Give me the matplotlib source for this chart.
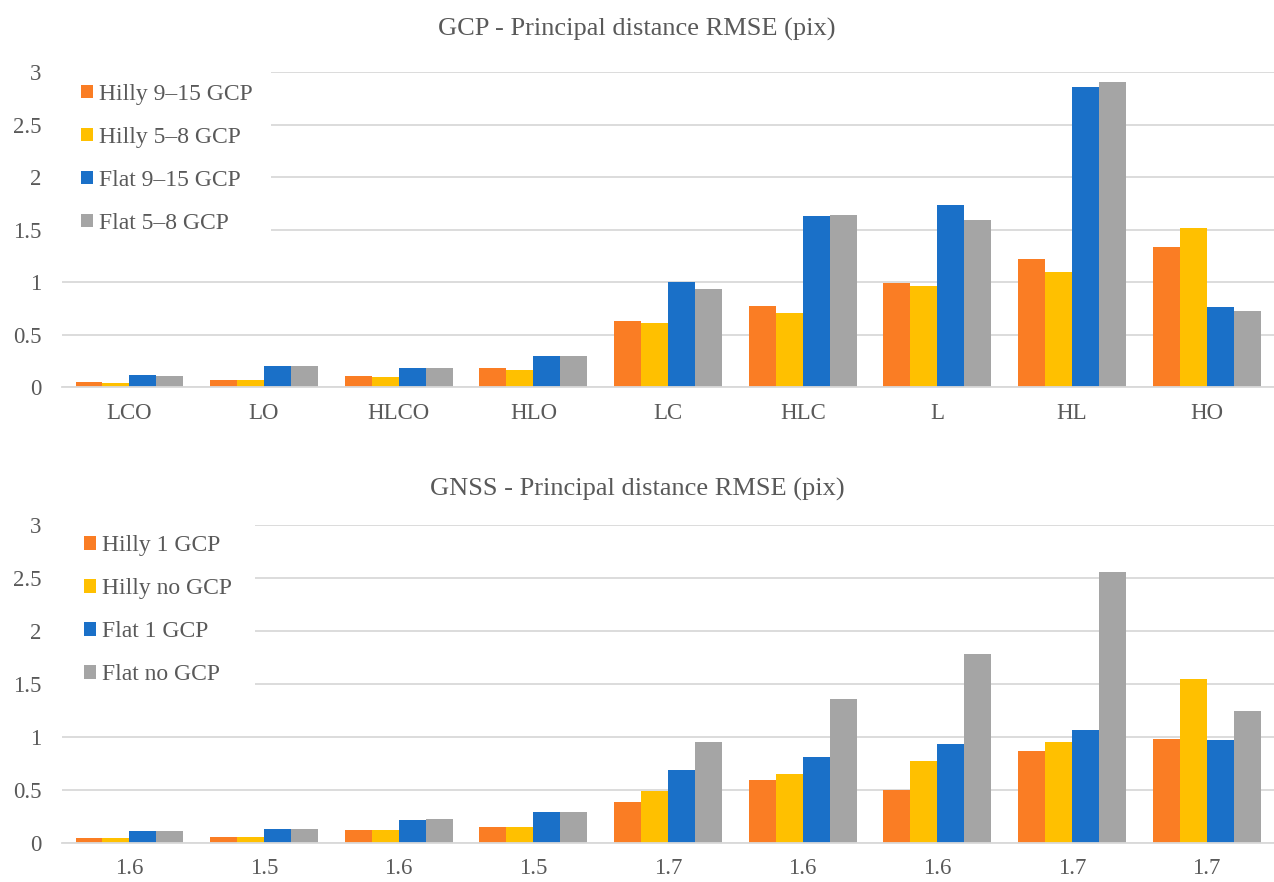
import numpy as np
import matplotlib
matplotlib.use('Agg')
import matplotlib.pyplot as plt

plt.rcParams['font.family'] = ['Liberation Serif', 'DejaVu Serif']

# top chart: GCP
gcp_cats = ['LCO', 'LO', 'HLCO', 'HLO', 'LC', 'HLC', 'L', 'HL', 'HO']
gcp_labels = ['Hilly 9\u201315 GCP', 'Hilly 5\u20138 GCP', 'Flat 9\u201315 GCP', 'Flat 5\u20138 GCP']
gcp_hilly_9_15 = [0.05, 0.07, 0.11, 0.18, 0.63, 0.77, 0.99, 1.22, 1.34]
gcp_hilly_5_8 = [0.045, 0.07, 0.10, 0.16, 0.61, 0.71, 0.96, 1.10, 1.52]
gcp_flat_9_15 = [0.12, 0.20, 0.18, 0.30, 1.00, 1.63, 1.74, 2.86, 0.76]
gcp_flat_5_8 = [0.11, 0.20, 0.18, 0.30, 0.94, 1.64, 1.59, 2.91, 0.73]

# bottom chart: GNSS
gnss_cats = ['1.6', '1.5', '1.6', '1.5', '1.7', '1.6', '1.6', '1.7', '1.7']
gnss_labels = ['Hilly 1 GCP', 'Hilly no GCP', 'Flat 1 GCP', 'Flat no GCP']
gnss_hilly_1 = [0.05, 0.055, 0.12, 0.15, 0.39, 0.59, 0.50, 0.87, 0.98]
gnss_hilly_no = [0.05, 0.055, 0.12, 0.15, 0.49, 0.65, 0.77, 0.95, 1.55]
gnss_flat_1 = [0.115, 0.13, 0.22, 0.29, 0.69, 0.81, 0.93, 1.07, 0.97]
gnss_flat_no = [0.115, 0.13, 0.225, 0.295, 0.95, 1.36, 1.78, 2.56, 1.25]

colors = ['#FA7D24', '#FFC000', '#1A70C8', '#A5A5A5']
text_col = '#595959'
grid_col = '#D9D9D9'


def draw(ax, cats, series, labels, leg_y, leg_pad):
    x = np.arange(len(cats))
    w = 0.2
    for i, (vals, lab) in enumerate(zip(series, labels)):
        ax.bar(x + (i - 1.5) * w, vals, w, color=colors[i], label=lab, zorder=2)
    ax.set_xlim(-0.5, len(cats) - 0.5)
    ax.set_ylim(0, 3)
    ax.set_yticks(np.arange(0, 3.01, 0.5))
    ax.set_yticklabels(['0', '0.5', '1', '1.5', '2', '2.5', '3'])
    ax.set_xticks(x)
    ax.set_xticklabels(cats)
    ax.yaxis.grid(True, color=grid_col, lw=1.3, zorder=0)
    ax.set_axisbelow(True)
    for s in ['top', 'right', 'left']:
        ax.spines[s].set_visible(False)
    ax.spines['bottom'].set_color(grid_col)
    ax.spines['bottom'].set_linewidth(1.3)
    ax.tick_params(axis='both', length=0, labelsize=16.5, colors=text_col)
    ax.tick_params(axis='x', pad=11)
    ax.tick_params(axis='y', pad=15)
    leg = ax.legend(loc='upper left', bbox_to_anchor=(0.0, leg_y), borderaxespad=0,
                    frameon=True, facecolor='white', edgecolor='none', framealpha=1,
                    fontsize=17, handlelength=0.5, handleheight=0.5,
                    handletextpad=0.25, labelspacing=0.93, borderpad=leg_pad,
                    fancybox=False)
    for t in leg.get_texts():
        t.set_color(text_col)
    leg.set_zorder(3)


fig = plt.figure(figsize=(12.74, 8.82), dpi=100)
ax1 = fig.add_axes([0.0487, 0.5609, 0.9513, 0.3571])
ax2 = fig.add_axes([0.0487, 0.0442, 0.9513, 0.3605])

draw(ax1, gcp_cats, [gcp_hilly_9_15, gcp_hilly_5_8, gcp_flat_9_15, gcp_flat_5_8],
     gcp_labels, 1.023, 0.8)
draw(ax2, gnss_cats, [gnss_hilly_1, gnss_hilly_no, gnss_flat_1, gnss_flat_no],
     gnss_labels, 1.038, 0.95)

fig.text(0.5, 1 - 29 / 882, 'GCP - Principal distance RMSE (pix)', ha='center', va='center',
         fontsize=19, color=text_col)
fig.text(0.5, 1 - 489 / 882, 'GNSS - Principal distance RMSE (pix)', ha='center', va='center',
         fontsize=19, color=text_col)

fig.savefig('out.png', dpi=100, facecolor='white')
